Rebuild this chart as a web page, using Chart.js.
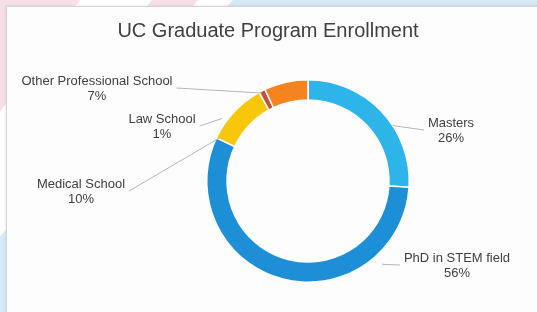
<!DOCTYPE html>
<html>
<head>
<meta charset="utf-8">
<script src="https://cdn.jsdelivr.net/npm/chart.js@4.4.1/dist/chart.umd.min.js"></script>
<style>
    html, body { margin: 0; padding: 0; width: 537px; height: 312px; overflow: hidden; background: #fff; }
    .deco { position: absolute; left: 0; top: 0; width: 537px; height: 312px; }
    .pink { background: #f6dfe9; }
    .blue { background: #d6eaf5; }
    #card { position: absolute; left: 6px; top: 6px; width: 600px; height: 400px;
            background: #fdfdfd; border-left: 1px solid #d4d4d4; border-top: 1px solid #d4d4d4;
            box-shadow: -1px -1px 2px rgba(0,0,0,0.06); }
    #wrap { position: absolute; left: 0; top: 0; width: 537px; height: 312px; }
</style>
</head>
<body>
<div class="deco pink" style="clip-path: polygon(0 0, 80px 0, 0 112px);"></div>
<div class="deco pink" style="clip-path: polygon(152px 0, 198px 0, 150px 60px, 104px 60px);"></div>
<div class="deco blue" style="clip-path: polygon(233px 0, 537px 0, 537px 312px, 0 312px, 0 236px);"></div>
<div id="card"></div>
<div id="wrap"><canvas id="chart" width="537" height="312"></canvas></div>
<script>
let categories = ['Masters', 'PhD in STEM field', 'Medical School', 'Law School', 'Other Professional School'];
let percents = [26, 56, 10, 1, 7];
let sliceColors = ['#2db5e9', '#1d8fd6', '#f8c70a', '#c4503c', '#f5831f'];
let chartTitle = 'UC Graduate Program Enrollment';

// label placement (centre of text block, first line) and leader line tweak
let labelLayout = [
    {x: 451, y: 123, side: 'right', nudge: 10, r: 1.0},
    {x: 457, y: 258, side: 'right', nudge: -56, r: 1.1},
    {x: 81, y: 184, side: 'left', nudge: -17, r: 0.97},
    {x: 162, y: 119, side: 'left', nudge: -27, r: 1.05},
    {x: 97, y: 81, side: 'left', nudge: -15, r: 0.98}
];

const FONT = '"Liberation Sans", Arial, sans-serif';

let outLabels = {
    id: 'outLabels',
    afterDraw(chart) {
        let ctx = chart.ctx;
        let meta = chart.getDatasetMeta(0);
        ctx.save();
        // title
        ctx.fillStyle = '#404040';
        ctx.font = '20px ' + FONT;
        ctx.textAlign = 'center';
        ctx.textBaseline = 'middle';
        ctx.fillText(chartTitle, 268, 31);

        ctx.font = '13px ' + FONT;
        meta.data.forEach((arc, i) => {
            let lay = labelLayout[i];
            let line1 = categories[i];
            let line2 = percents[i] + '%';
            ctx.fillStyle = '#404040';
            ctx.fillText(line1, lay.x, lay.y);
            ctx.fillText(line2, lay.x, lay.y + 15);

            let w = Math.max(ctx.measureText(line1).width, ctx.measureText(line2).width);
            let sx = lay.side === 'left' ? lay.x + w / 2 + 4 : lay.x - w / 2 - 4;
            let sy = lay.y + 7;
            let p = arc.getProps(['x', 'y', 'startAngle', 'endAngle', 'outerRadius'], true);
            let a = (p.startAngle + p.endAngle) / 2 + lay.nudge * Math.PI / 180;
            let ex = p.x + Math.cos(a) * p.outerRadius * lay.r;
            let ey = p.y + Math.sin(a) * p.outerRadius * lay.r;
            ctx.strokeStyle = '#b5b5b5';
            ctx.lineWidth = 1;
            ctx.beginPath();
            ctx.moveTo(sx, sy);
            ctx.lineTo(ex, ey);
            ctx.stroke();
        });
        ctx.restore();
    }
};

let ctx = document.getElementById('chart').getContext('2d');
let chart = new Chart(ctx, {
    type: 'doughnut',
    data: {
        labels: categories,
        datasets: [{
            data: percents,
            backgroundColor: sliceColors,
            borderColor: '#fdfdfd',
            borderWidth: 1.5,
            hoverOffset: 0
        }]
    },
    options: {
        responsive: false,
        animation: false,
        cutout: '80%',
        layout: {padding: {left: 206, right: 127, top: 79, bottom: 29}},
        plugins: {
            legend: {display: false},
            title: {display: false},
            tooltip: {enabled: false}
        }
    },
    plugins: [outLabels]
});
</script>
</body>
</html>
